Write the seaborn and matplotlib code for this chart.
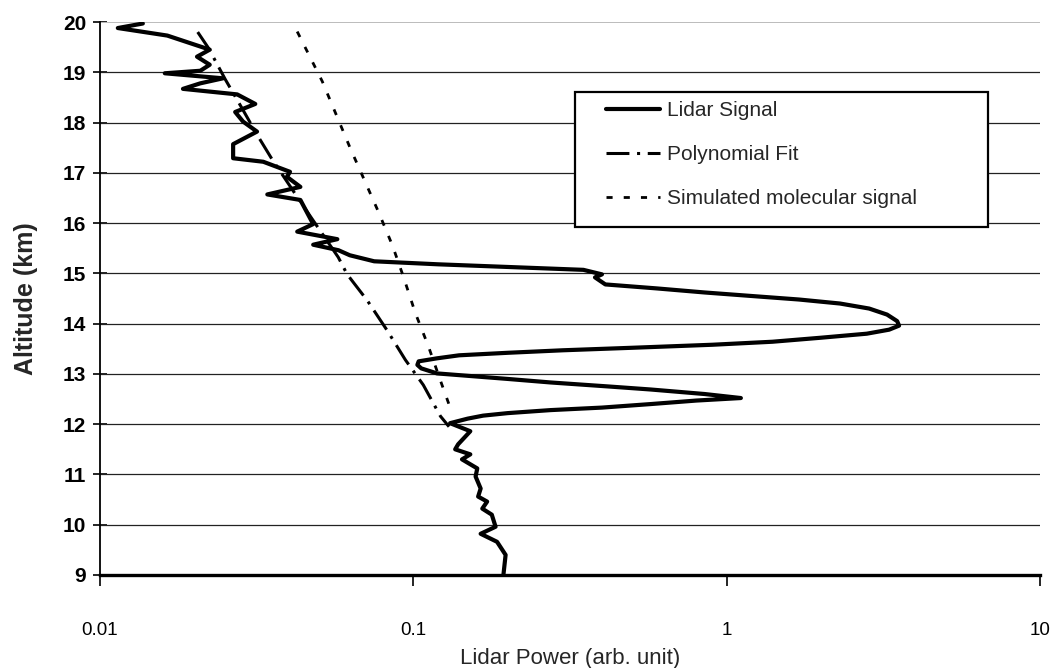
import matplotlib
matplotlib.use("Agg")
import matplotlib.pyplot as plt
from matplotlib.patches import Rectangle
import seaborn as sns
import pandas as pd

# Lidar return profile (altitude in km, power in arbitrary units)
lidar_alt = [19.97, 19.88, 19.73, 19.45, 19.31, 19.15, 19.03, 18.98, 18.88, 18.78,
             18.67, 18.56, 18.37, 18.21, 18.02, 17.82, 17.57, 17.29, 17.22, 17.02,
             16.92, 16.72, 16.57, 16.46, 15.98, 15.83, 15.68, 15.57, 15.46, 15.36,
             15.24, 15.18, 15.07, 14.98, 14.92, 14.78, 14.70, 14.62, 14.55, 14.48,
             14.40, 14.30, 14.18, 14.05, 13.96, 13.88, 13.80, 13.72, 13.64, 13.58,
             13.52, 13.47, 13.42, 13.37, 13.31, 13.25, 13.18, 13.11, 13.01, 12.90,
             12.83, 12.75, 12.69, 12.60, 12.52, 12.47, 12.40, 12.33, 12.28, 12.22,
             12.17, 12.11, 12.02, 11.86, 11.60, 11.50, 11.40, 11.30, 11.12, 10.96,
             10.72, 10.56, 10.46, 10.32, 10.20, 9.96, 9.82, 9.66, 9.40, 9.02]
lidar_pow = [0.0137, 0.0114, 0.0164, 0.0224, 0.0204, 0.0224, 0.0209, 0.0161, 0.0247, 0.0209,
             0.0184, 0.0274, 0.0313, 0.0270, 0.0286, 0.0317, 0.0266, 0.0266, 0.0332, 0.0404,
             0.0395, 0.0436, 0.0342, 0.0436, 0.0479, 0.0426, 0.0572, 0.0479, 0.0577, 0.0627,
             0.0750, 0.120, 0.349, 0.400, 0.380, 0.410, 0.60, 0.85, 1.20, 1.70,
             2.30, 2.85, 3.25, 3.50, 3.55, 3.30, 2.80, 2.00, 1.40, 0.90,
             0.50, 0.30, 0.20, 0.140, 0.119, 0.104, 0.103, 0.106, 0.119, 0.200,
             0.274, 0.420, 0.572, 0.850, 1.11, 0.800, 0.572, 0.400, 0.274, 0.200,
             0.167, 0.149, 0.131, 0.152, 0.139, 0.136, 0.152, 0.143, 0.160, 0.158,
             0.164, 0.161, 0.172, 0.166, 0.178, 0.183, 0.164, 0.185, 0.197, 0.194]

# Polynomial fit to the aerosol-free part of the profile
fit_alt = [19.80, 19.48, 18.86, 18.30, 17.76, 17.27, 16.30, 15.32, 14.98, 14.46,
           13.86, 13.28, 12.78, 12.16, 11.95]
fit_pow = [0.0205, 0.0222, 0.0251, 0.0283, 0.0317, 0.0354, 0.0450, 0.0576, 0.0615, 0.0713,
           0.0826, 0.0943, 0.1076, 0.122, 0.130]

# Simulated molecular (Rayleigh) return
mol_alt = [19.81, 18.82, 17.49, 16.23, 15.56, 14.94, 14.21, 13.55, 12.87, 12.22]
mol_pow = [0.0426, 0.0512, 0.0629, 0.0773, 0.0857, 0.0929, 0.1015, 0.1117, 0.122, 0.133]

x_ticks = [0.01, 0.1, 1, 10]
x_tick_labels = ["0.01", "0.1", "1", "10"]
y_ticks = list(range(9, 21))

sns.set_style("white")
plt.rcParams["font.family"] = ["Liberation Sans", "DejaVu Sans"]

lidar = pd.DataFrame({"alt": lidar_alt, "power": lidar_pow})
fit = pd.DataFrame({"alt": fit_alt, "power": fit_pow})
mol = pd.DataFrame({"alt": mol_alt, "power": mol_pow})

W, H = 1060, 668
fig = plt.figure(figsize=(W / 100, H / 100), dpi=100)
ax = fig.add_axes([100 / W, 1 - 575 / H, 940 / W, 553 / H])

# horizontal gridlines at every km
for k in range(10, 20):
    ax.axhline(k, color="#222222", lw=0.9, zorder=1)
ax.axhline(20, color="#bbbbbb", lw=0.7, zorder=1)

sns.lineplot(data=lidar, x="power", y="alt", sort=False, estimator=None, orient="y",
             color="black", lw=3.0, label="Lidar Signal", ax=ax, zorder=3)
sns.lineplot(data=fit, x="power", y="alt", sort=False, estimator=None, orient="y",
             color="black", lw=2.2, linestyle=(0, (7.5, 2.5, 1, 2.5)),
             label="Polynomial Fit", ax=ax, zorder=3)
sns.lineplot(data=mol, x="power", y="alt", sort=False, estimator=None, orient="y",
             color="black", lw=2.0, linestyle=(0, (2.2, 4)),
             label="Simulated molecular signal", ax=ax, zorder=3)

ax.set_xscale("log")
ax.set_xlim(0.01, 10)
ax.set_ylim(9, 20)
ax.set_xticks(x_ticks)
ax.set_xticklabels(x_tick_labels)
ax.xaxis.set_minor_locator(matplotlib.ticker.NullLocator())
ax.set_yticks(y_ticks)
ax.set_yticklabels([str(v) for v in y_ticks], fontweight="bold")

for side in ("top", "right"):
    ax.spines[side].set_visible(False)
ax.spines["left"].set_color("black")
ax.spines["left"].set_linewidth(1.3)
ax.spines["bottom"].set_color("black")
ax.spines["bottom"].set_linewidth(2.4)

ax.tick_params(axis="y", direction="inout", length=10, width=1.2, pad=5,
               labelsize=15, colors="black", left=True)
ax.tick_params(axis="x", direction="out", length=8, width=1.2, pad=26,
               labelsize=13.5, colors="black", bottom=True)

ax.set_xlabel("Lidar Power (arb. unit)", fontsize=16, labelpad=6)
ax.set_ylabel("Altitude (km)", fontsize=18, fontweight="bold")
ax.yaxis.set_label_coords(-0.066, 0.5)

# legend: a framed box with the entries placed inside it
box = Rectangle((575 / W, 1 - 227 / H), 413 / W, 135 / H, transform=fig.transFigure,
                facecolor="white", edgecolor="black", lw=1.6, clip_on=False, zorder=4)
ax.add_patch(box)
handles, labels = ax.get_legend_handles_labels()
leg = ax.legend(handles, labels, loc="upper left", bbox_to_anchor=(606 / W, 1 - 101 / H),
                bbox_transform=fig.transFigure, fontsize=15, frameon=False,
                handlelength=2.6, handletextpad=0.35, labelspacing=1.2,
                borderpad=0, borderaxespad=0)
leg.set_zorder(5)

fig.savefig("out.png", dpi=100, facecolor="white")
